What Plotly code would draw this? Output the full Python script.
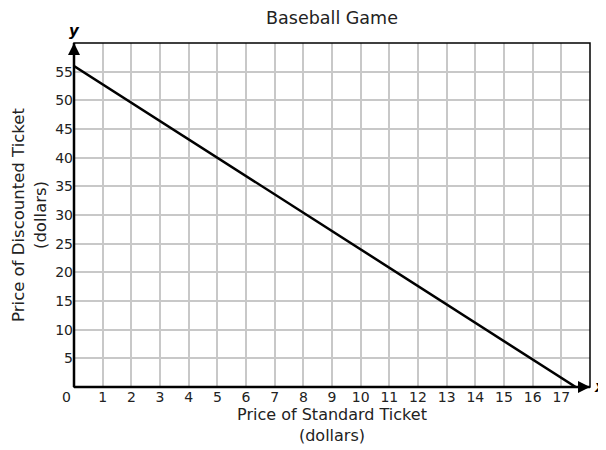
import plotly.graph_objects as go

# data
standard_price = [0, 17.5]
discount_price = [56, 0]
x_ticks = list(range(1, 18))
y_ticks = list(range(5, 60, 5))

font = "DejaVu Sans, Verdana, sans-serif"

# the page body adds an 8px margin, so the figure is 8px smaller and margins shifted
fig = go.Figure()
fig.add_trace(go.Scatter(x=standard_price, y=discount_price, mode="lines",
                         line=dict(color="black", width=2.5), hoverinfo="skip"))

fig.update_layout(
    width=598, height=442,
    margin=dict(l=66, r=16, t=35, b=63),
    paper_bgcolor="white", plot_bgcolor="white",
    showlegend=False,
    font=dict(family=font, size=14, color="#222"),
    title=dict(text="Baseball Game", x=0.5, xref="paper", xanchor="center",
               y=1 - 10 / 442, yanchor="middle", yref="container",
               font=dict(size=17.5, family=font, color="#222")),
)

fig.update_xaxes(range=[0, 18], tickvals=x_ticks, ticktext=[str(v) for v in x_ticks],
                 showgrid=True, gridcolor="#c8c8c8", gridwidth=2, automargin=False,
                 zeroline=False, showline=False, ticks="",
                 title=dict(text="Price of Standard Ticket<br>(dollars)", standoff=4,
                            font=dict(size=16)))
fig.update_yaxes(range=[0, 60], tickvals=y_ticks, ticktext=[str(v) for v in y_ticks],
                 showgrid=True, gridcolor="#c8c8c8", gridwidth=2, automargin=False,
                 zeroline=False, showline=False, ticks="",
                 title=dict(text="Price of Discounted Ticket<br>(dollars)", standoff=4,
                            font=dict(size=16.5)))

# frame
fig.add_shape(type="rect", xref="paper", yref="paper", x0=0, y0=0, x1=1, y1=1,
              line=dict(color="black", width=1.5))
# axes
fig.add_shape(type="line", xref="paper", yref="paper", x0=0, y0=0, x1=0, y1=1,
              line=dict(color="black", width=2.5))
fig.add_shape(type="line", xref="paper", yref="paper", x0=0, y0=0, x1=1, y1=0,
              line=dict(color="black", width=2.5))

# arrows on axes
fig.add_annotation(x=0, y=1, xref="paper", yref="paper", ax=0, ay=16, text="",
                   showarrow=True, arrowhead=2, arrowsize=1.2, arrowwidth=2, arrowcolor="black")
fig.add_annotation(x=1, y=0, xref="paper", yref="paper", ax=-16, ay=0, text="",
                   showarrow=True, arrowhead=2, arrowsize=1.2, arrowwidth=2, arrowcolor="black")
fig.add_annotation(x=0, y=1, xref="paper", yref="paper", xanchor="center", yanchor="bottom",
                   yshift=1, text="<b><i>y</i></b>",
                   showarrow=False, font=dict(size=15, color="black"))
fig.add_annotation(x=1, y=0, xref="paper", yref="paper", xanchor="left", yanchor="middle",
                   xshift=2, text="<b><i>x</i></b>",
                   showarrow=False, font=dict(size=15, color="black"))
fig.add_annotation(x=0, y=0, xref="paper", yref="paper", xanchor="center", yanchor="middle",
                   xshift=-8, yshift=-10, text="0",
                   showarrow=False, font=dict(size=14, color="#222"))

fig.write_html("out.html")
